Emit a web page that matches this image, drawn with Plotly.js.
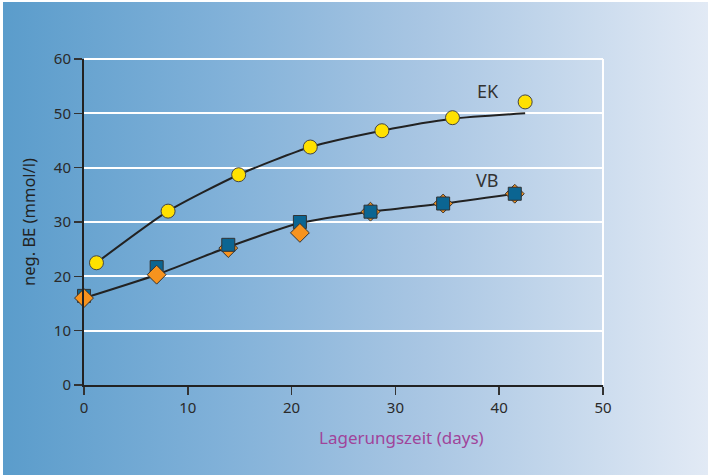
<!DOCTYPE html>
<html>
<head>
<meta charset="utf-8">
<script src="https://cdn.plot.ly/plotly-3.0.1.min.js"></script>
<style>
  html, body { margin: 0; padding: 0; background: #ffffff; }
  #chart {
    width: 708px; height: 475px;
    background: linear-gradient(to right, #5a9ccb 0%, #7fb0d8 30%, #a9c6e3 60%, #e2eaf5 100%);
    box-shadow: inset 3px 2px 0 #ffffff;
  }
</style>
</head>
<body>
<div id="chart"></div>
<script>
// ---- data ----
const ekDays   = [1.2, 8.1, 14.9, 21.8, 28.7, 35.5, 42.5];
const ekValues = [22.5, 32.0, 38.7, 43.8, 46.8, 49.2, 52.1];
const ekFit    = [22.5, 32.0, 38.7, 43.8, 46.8, 49.0, 50.0];

const vbDays        = [0, 7.0, 13.9, 20.8, 27.6, 34.6, 41.5];
const vbSquares     = [16.4, 21.7, 25.8, 30.0, 31.9, 33.4, 35.2];
const vbDiamonds    = [16.0, 20.3, 25.2, 28.0, 31.9, 33.4, 35.2];
const vbFit         = [16.0, 20.3, 25.4, 29.8, 31.9, 33.4, 35.2];
const diamondOnTop  = [true, true, false, true, false, false, false];

const xTicks = [0, 10, 20, 30, 40, 50];
const yTicks = [0, 10, 20, 30, 40, 50, 60];

// build the VB marker trace in drawing order
const mx = [], my = [], msym = [], mcol = [], msize = [];
const SQ = {symbol: 'square', color: '#0b6592', size: 13};
const DI = {symbol: 'diamond', color: '#f7931e', size: 14.5};
vbDays.forEach((d, i) => {
  const sq = {x: d, y: vbSquares[i], ...SQ};
  const di = {x: d, y: vbDiamonds[i], ...DI};
  const order = diamondOnTop[i] ? [sq, di] : [di, sq];
  order.forEach(p => { mx.push(p.x); my.push(p.y); msym.push(p.symbol); mcol.push(p.color); msize.push(p.size); });
});

const lineStyle = {color: '#222222', width: 2, shape: 'spline', smoothing: 0.6};

const traces = [
  {x: ekDays, y: ekFit, mode: 'lines', line: lineStyle, hoverinfo: 'skip', cliponaxis: false},
  {x: vbDays, y: vbFit, mode: 'lines', line: lineStyle, hoverinfo: 'skip', cliponaxis: false},
  {x: mx, y: my, mode: 'markers', cliponaxis: false,
   marker: {symbol: msym, color: mcol, size: msize, opacity: 1, line: {color: '#333333', width: 1}}},
  {x: ekDays, y: ekValues, mode: 'markers', cliponaxis: false,
   marker: {symbol: 'circle', color: '#ffe100', size: 14, opacity: 1, line: {color: '#444444', width: 1}}}
];

const font = {family: '"Noto Sans", "Open Sans", sans-serif', size: 15, color: '#2a2a2a'};

const layout = {
  width: 708, height: 475,
  margin: {l: 84, r: 105, t: 59, b: 90},
  paper_bgcolor: 'rgba(0,0,0,0)',
  plot_bgcolor: 'rgba(0,0,0,0)',
  showlegend: false,
  font: font,
  xaxis: {
    range: [0, 50], tickvals: xTicks, ticktext: xTicks.map(String),
    showgrid: false, zeroline: false,
    showline: true, linecolor: '#222222', linewidth: 2,
    ticks: 'outside', ticklen: 8, tickwidth: 1.5, tickcolor: '#333333',
    tickfont: font
  },
  yaxis: {
    range: [0, 60], tickvals: yTicks, ticktext: yTicks.map(String),
    showgrid: true, gridcolor: '#ffffff', gridwidth: 2,
    zeroline: false,
    showline: true, linecolor: '#222222', linewidth: 2,
    ticks: 'outside', ticklen: 8, tickwidth: 1.5, tickcolor: '#333333',
    tickfont: font,
    title: {text: 'neg. BE (mmol/l)', font: {family: font.family, size: 16.5, color: '#222222'}, standoff: 14}
  },
  shapes: [
    {type: 'line', xref: 'paper', yref: 'paper', x0: 1, x1: 1, y0: 0, y1: 1,
     line: {color: '#ffffff', width: 2}},
    {type: 'line', xref: 'paper', yref: 'paper', x0: 0, x1: 1, y0: 1, y1: 1,
     line: {color: '#ffffff', width: 2}}
  ],
  annotations: [
    {text: 'EK', x: 38.9, y: 54.1, xref: 'x', yref: 'y', showarrow: false,
     font: {family: font.family, size: 18, color: '#333333'}},
    {text: 'VB', x: 38.9, y: 37.8, xref: 'x', yref: 'y', showarrow: false,
     font: {family: font.family, size: 18, color: '#333333'}},
    {text: 'Lagerungszeit (days)', x: 30.6, y: -0.16, xref: 'x', yref: 'paper',
     showarrow: false, yanchor: 'middle',
     font: {family: font.family, size: 17, color: '#a0449a'}}
  ]
};

Plotly.newPlot('chart', traces, layout, {displayModeBar: false, staticPlot: true});
</script>
</body>
</html>
